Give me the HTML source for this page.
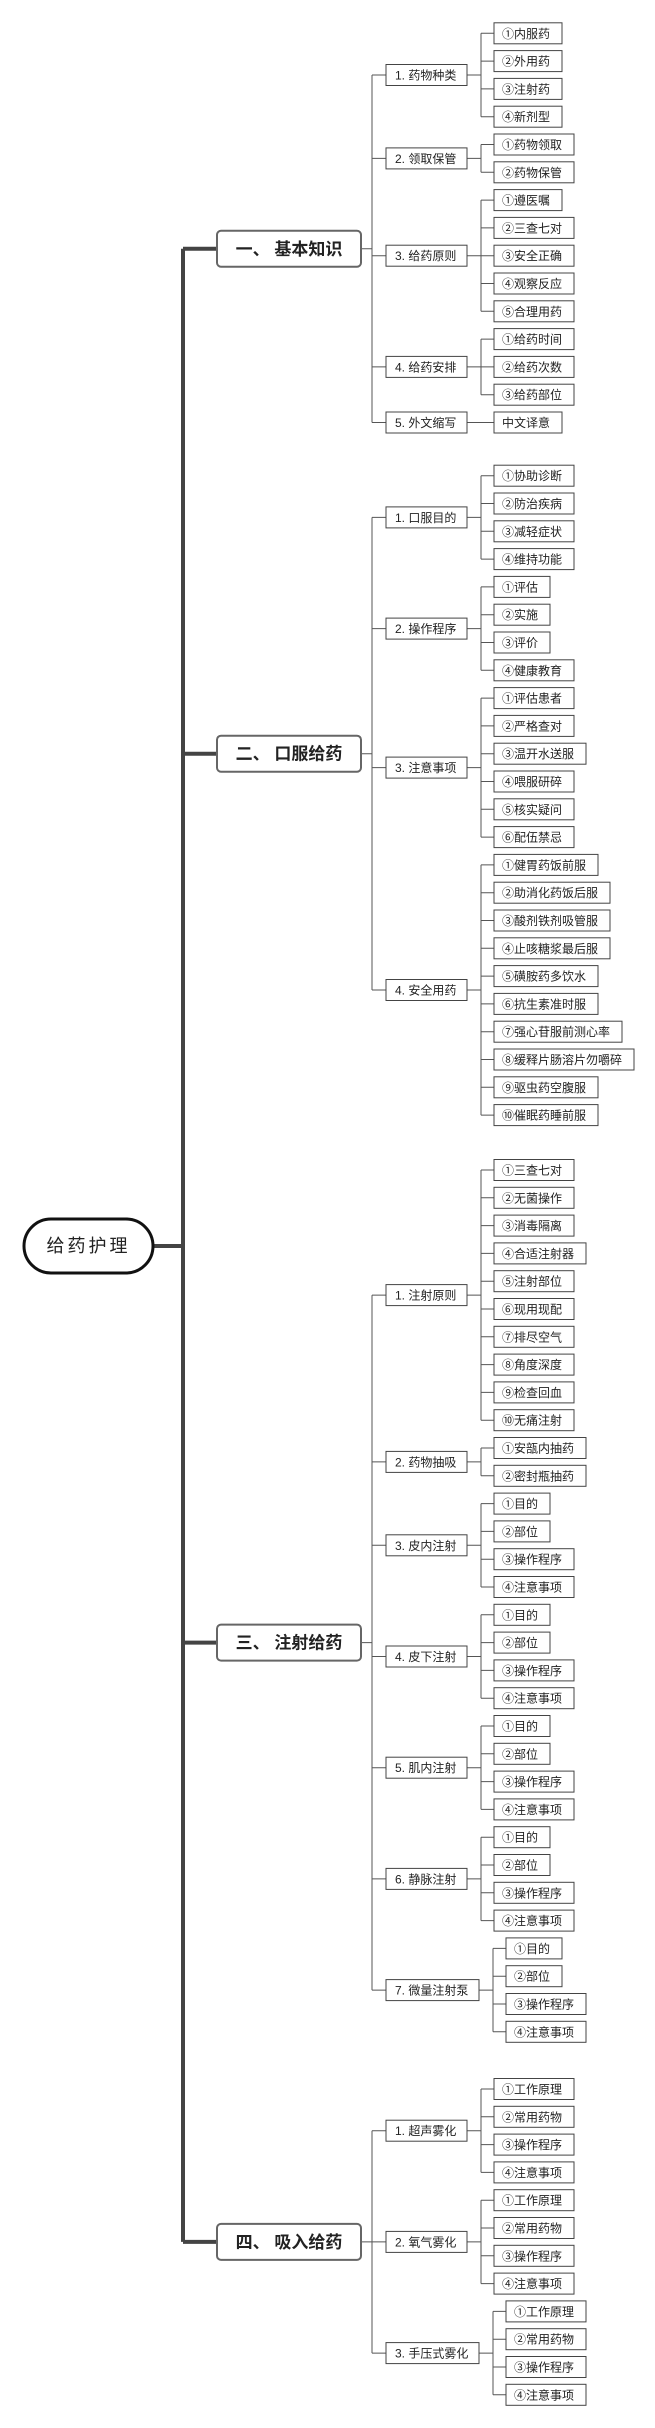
<!DOCTYPE html>
<html><head><meta charset="utf-8">
<style>
html,body{margin:0;padding:0;background:#fff;}
svg{display:block;}
text{font-family:"Liberation Sans","Noto Sans CJK SC",sans-serif;fill:#222;}
.lf rect,.l2 rect{fill:#fff;stroke:#444;stroke-width:1;}
.lf text,.l2 text{font-size:12px;}
.l1 rect{fill:#fff;stroke:#666;stroke-width:2;}
.l1 text{font-size:17px;font-weight:bold;text-anchor:middle;}
.ln{fill:none;stroke:#555;stroke-width:1;}
</style></head><body>
<svg width="655" height="2428" viewBox="0 0 655 2428" xmlns="http://www.w3.org/2000/svg">
<!-- trunk -->
<path d="M183 248.75V2241.9 M153 1246H183 M183 248.75H217 M183 753.7H217 M183 1642.6H217 M183 2241.9H217" stroke="#444" stroke-width="4" fill="none"/>
<rect x="24" y="1219" width="129" height="54" rx="27" fill="#fff" stroke="#111" stroke-width="3"/>
<text x="88.5" y="1252" font-size="18" text-anchor="middle" letter-spacing="3">给药护理</text>

<!-- connectors -->
<path class="ln" d="
M361 248.75H372 M372 75V422.5 M372 75H386 M372 158.4H386 M372 255.7H386 M372 366.9H386 M372 422.5H386
M467 75H481 M481 33.3V116.7 M481 33.3H494 M481 61.1H494 M481 88.9H494 M481 116.7H494
M467 158.4H481 M481 144.5V172.3 M481 144.5H494 M481 172.3H494
M467 255.7H481 M481 200.1V311.3 M481 200.1H494 M481 227.9H494 M481 255.7H494 M481 283.5H494 M481 311.3H494
M467 366.9H481 M481 339.1V394.7 M481 339.1H494 M481 366.9H494 M481 394.7H494
M467 422.5H494
M361 753.7H372 M372 517.4V990 M372 517.4H386 M372 628.6H386 M372 767.6H386 M372 990H386
M467 517.4H481 M481 475.7V559.1 M481 475.7H494 M481 503.5H494 M481 531.3H494 M481 559.1H494
M467 628.6H481 M481 586.9V670.3 M481 586.9H494 M481 614.7H494 M481 642.5H494 M481 670.3H494
M467 767.6H481 M481 698.1V837.1 M481 698.1H494 M481 725.9H494 M481 753.7H494 M481 781.5H494 M481 809.3H494 M481 837.1H494
M467 990H481 M481 864.9V1115.1 M481 864.9H494 M481 892.7H494 M481 920.5H494 M481 948.3H494 M481 976.1H494 M481 1003.9H494 M481 1031.7H494 M481 1059.5H494 M481 1087.3H494 M481 1115.1H494
M361 1642.6H372 M372 1295.1V1990.1 M372 1295.1H386 M372 1461.9H386 M372 1545.3H386 M372 1656.5H386 M372 1767.7H386 M372 1878.9H386 M372 1990.1H386
M467 1295.1H481 M481 1170V1420.2 M481 1170H494 M481 1197.8H494 M481 1225.6H494 M481 1253.4H494 M481 1281.2H494 M481 1309H494 M481 1336.8H494 M481 1364.6H494 M481 1392.4H494 M481 1420.2H494
M467 1461.9H481 M481 1448V1475.8 M481 1448H494 M481 1475.8H494
M467 1545.3H481 M481 1503.6V1587 M481 1503.6H494 M481 1531.4H494 M481 1559.2H494 M481 1587H494
M467 1656.5H481 M481 1614.8V1698.2 M481 1614.8H494 M481 1642.6H494 M481 1670.4H494 M481 1698.2H494
M467 1767.7H481 M481 1726V1809.4 M481 1726H494 M481 1753.8H494 M481 1781.6H494 M481 1809.4H494
M467 1878.9H481 M481 1837.2V1920.6 M481 1837.2H494 M481 1865H494 M481 1892.8H494 M481 1920.6H494
M479 1990.1H493 M493 1948.4V2031.8 M493 1948.4H506 M493 1976.2H506 M493 2004H506 M493 2031.8H506
M361 2241.9H372 M372 2130.7V2353.1 M372 2130.7H386 M372 2241.9H386 M372 2353.1H386
M467 2130.7H481 M481 2089V2172.4 M481 2089H494 M481 2116.8H494 M481 2144.6H494 M481 2172.4H494
M467 2241.9H481 M481 2200.2V2283.6 M481 2200.2H494 M481 2228H494 M481 2255.8H494 M481 2283.6H494
M479 2353.1H493 M493 2311.4V2394.8 M493 2311.4H506 M493 2339.2H506 M493 2367H506 M493 2394.8H506
"/>

<!-- L1 -->
<g class="l1">
<g transform="translate(217,248.75)"><rect x="0" y="-18" width="144" height="36" rx="4"/><text x="72" y="6">一、 基本知识</text></g>
<g transform="translate(217,753.7)"><rect x="0" y="-18" width="144" height="36" rx="4"/><text x="72" y="6">二、 口服给药</text></g>
<g transform="translate(217,1642.6)"><rect x="0" y="-18" width="144" height="36" rx="4"/><text x="72" y="6">三、 注射给药</text></g>
<g transform="translate(217,2241.9)"><rect x="0" y="-18" width="144" height="36" rx="4"/><text x="72" y="6">四、 吸入给药</text></g>
</g>

<!-- L2 -->
<g class="l2">
<g transform="translate(386,75)"><rect y="-10.5" width="81" height="21"/><text x="9" y="4.5">1. 药物种类</text></g>
<g transform="translate(386,158.4)"><rect y="-10.5" width="81" height="21"/><text x="9" y="4.5">2. 领取保管</text></g>
<g transform="translate(386,255.7)"><rect y="-10.5" width="81" height="21"/><text x="9" y="4.5">3. 给药原则</text></g>
<g transform="translate(386,366.9)"><rect y="-10.5" width="81" height="21"/><text x="9" y="4.5">4. 给药安排</text></g>
<g transform="translate(386,422.5)"><rect y="-10.5" width="81" height="21"/><text x="9" y="4.5">5. 外文缩写</text></g>
<g transform="translate(386,517.4)"><rect y="-10.5" width="81" height="21"/><text x="9" y="4.5">1. 口服目的</text></g>
<g transform="translate(386,628.6)"><rect y="-10.5" width="81" height="21"/><text x="9" y="4.5">2. 操作程序</text></g>
<g transform="translate(386,767.6)"><rect y="-10.5" width="81" height="21"/><text x="9" y="4.5">3. 注意事项</text></g>
<g transform="translate(386,990)"><rect y="-10.5" width="81" height="21"/><text x="9" y="4.5">4. 安全用药</text></g>
<g transform="translate(386,1295.1)"><rect y="-10.5" width="81" height="21"/><text x="9" y="4.5">1. 注射原则</text></g>
<g transform="translate(386,1461.9)"><rect y="-10.5" width="81" height="21"/><text x="9" y="4.5">2. 药物抽吸</text></g>
<g transform="translate(386,1545.3)"><rect y="-10.5" width="81" height="21"/><text x="9" y="4.5">3. 皮内注射</text></g>
<g transform="translate(386,1656.5)"><rect y="-10.5" width="81" height="21"/><text x="9" y="4.5">4. 皮下注射</text></g>
<g transform="translate(386,1767.7)"><rect y="-10.5" width="81" height="21"/><text x="9" y="4.5">5. 肌内注射</text></g>
<g transform="translate(386,1878.9)"><rect y="-10.5" width="81" height="21"/><text x="9" y="4.5">6. 静脉注射</text></g>
<g transform="translate(386,1990.1)"><rect y="-10.5" width="93" height="21"/><text x="9" y="4.5">7. 微量注射泵</text></g>
<g transform="translate(386,2130.7)"><rect y="-10.5" width="81" height="21"/><text x="9" y="4.5">1. 超声雾化</text></g>
<g transform="translate(386,2241.9)"><rect y="-10.5" width="81" height="21"/><text x="9" y="4.5">2. 氧气雾化</text></g>
<g transform="translate(386,2353.1)"><rect y="-10.5" width="93" height="21"/><text x="9" y="4.5">3. 手压式雾化</text></g>
</g>

<!-- leaves -->
<g class="lf">
<g transform="translate(494,33.3)"><rect y="-10.5" width="68" height="21"/><text x="8" y="4.5">①内服药</text></g>
<g transform="translate(494,61.1)"><rect y="-10.5" width="68" height="21"/><text x="8" y="4.5">②外用药</text></g>
<g transform="translate(494,88.9)"><rect y="-10.5" width="68" height="21"/><text x="8" y="4.5">③注射药</text></g>
<g transform="translate(494,116.7)"><rect y="-10.5" width="68" height="21"/><text x="8" y="4.5">④新剂型</text></g>
<g transform="translate(494,144.5)"><rect y="-10.5" width="80" height="21"/><text x="8" y="4.5">①药物领取</text></g>
<g transform="translate(494,172.3)"><rect y="-10.5" width="80" height="21"/><text x="8" y="4.5">②药物保管</text></g>
<g transform="translate(494,200.1)"><rect y="-10.5" width="68" height="21"/><text x="8" y="4.5">①遵医嘱</text></g>
<g transform="translate(494,227.9)"><rect y="-10.5" width="80" height="21"/><text x="8" y="4.5">②三查七对</text></g>
<g transform="translate(494,255.7)"><rect y="-10.5" width="80" height="21"/><text x="8" y="4.5">③安全正确</text></g>
<g transform="translate(494,283.5)"><rect y="-10.5" width="80" height="21"/><text x="8" y="4.5">④观察反应</text></g>
<g transform="translate(494,311.3)"><rect y="-10.5" width="80" height="21"/><text x="8" y="4.5">⑤合理用药</text></g>
<g transform="translate(494,339.1)"><rect y="-10.5" width="80" height="21"/><text x="8" y="4.5">①给药时间</text></g>
<g transform="translate(494,366.9)"><rect y="-10.5" width="80" height="21"/><text x="8" y="4.5">②给药次数</text></g>
<g transform="translate(494,394.7)"><rect y="-10.5" width="80" height="21"/><text x="8" y="4.5">③给药部位</text></g>
<g transform="translate(494,422.5)"><rect y="-10.5" width="68" height="21"/><text x="8" y="4.5">中文译意</text></g>

<g transform="translate(494,475.7)"><rect y="-10.5" width="80" height="21"/><text x="8" y="4.5">①协助诊断</text></g>
<g transform="translate(494,503.5)"><rect y="-10.5" width="80" height="21"/><text x="8" y="4.5">②防治疾病</text></g>
<g transform="translate(494,531.3)"><rect y="-10.5" width="80" height="21"/><text x="8" y="4.5">③减轻症状</text></g>
<g transform="translate(494,559.1)"><rect y="-10.5" width="80" height="21"/><text x="8" y="4.5">④维持功能</text></g>
<g transform="translate(494,586.9)"><rect y="-10.5" width="56" height="21"/><text x="8" y="4.5">①评估</text></g>
<g transform="translate(494,614.7)"><rect y="-10.5" width="56" height="21"/><text x="8" y="4.5">②实施</text></g>
<g transform="translate(494,642.5)"><rect y="-10.5" width="56" height="21"/><text x="8" y="4.5">③评价</text></g>
<g transform="translate(494,670.3)"><rect y="-10.5" width="80" height="21"/><text x="8" y="4.5">④健康教育</text></g>
<g transform="translate(494,698.1)"><rect y="-10.5" width="80" height="21"/><text x="8" y="4.5">①评估患者</text></g>
<g transform="translate(494,725.9)"><rect y="-10.5" width="80" height="21"/><text x="8" y="4.5">②严格查对</text></g>
<g transform="translate(494,753.7)"><rect y="-10.5" width="92" height="21"/><text x="8" y="4.5">③温开水送服</text></g>
<g transform="translate(494,781.5)"><rect y="-10.5" width="80" height="21"/><text x="8" y="4.5">④喂服研碎</text></g>
<g transform="translate(494,809.3)"><rect y="-10.5" width="80" height="21"/><text x="8" y="4.5">⑤核实疑问</text></g>
<g transform="translate(494,837.1)"><rect y="-10.5" width="80" height="21"/><text x="8" y="4.5">⑥配伍禁忌</text></g>
<g transform="translate(494,864.9)"><rect y="-10.5" width="104" height="21"/><text x="8" y="4.5">①健胃药饭前服</text></g>
<g transform="translate(494,892.7)"><rect y="-10.5" width="116" height="21"/><text x="8" y="4.5">②助消化药饭后服</text></g>
<g transform="translate(494,920.5)"><rect y="-10.5" width="116" height="21"/><text x="8" y="4.5">③酸剂铁剂吸管服</text></g>
<g transform="translate(494,948.3)"><rect y="-10.5" width="116" height="21"/><text x="8" y="4.5">④止咳糖浆最后服</text></g>
<g transform="translate(494,976.1)"><rect y="-10.5" width="104" height="21"/><text x="8" y="4.5">⑤磺胺药多饮水</text></g>
<g transform="translate(494,1003.9)"><rect y="-10.5" width="104" height="21"/><text x="8" y="4.5">⑥抗生素准时服</text></g>
<g transform="translate(494,1031.7)"><rect y="-10.5" width="128" height="21"/><text x="8" y="4.5">⑦强心苷服前测心率</text></g>
<g transform="translate(494,1059.5)"><rect y="-10.5" width="140" height="21"/><text x="8" y="4.5">⑧缓释片肠溶片勿嚼碎</text></g>
<g transform="translate(494,1087.3)"><rect y="-10.5" width="104" height="21"/><text x="8" y="4.5">⑨驱虫药空腹服</text></g>
<g transform="translate(494,1115.1)"><rect y="-10.5" width="104" height="21"/><text x="8" y="4.5">⑩催眠药睡前服</text></g>

<g transform="translate(494,1170)"><rect y="-10.5" width="80" height="21"/><text x="8" y="4.5">①三查七对</text></g>
<g transform="translate(494,1197.8)"><rect y="-10.5" width="80" height="21"/><text x="8" y="4.5">②无菌操作</text></g>
<g transform="translate(494,1225.6)"><rect y="-10.5" width="80" height="21"/><text x="8" y="4.5">③消毒隔离</text></g>
<g transform="translate(494,1253.4)"><rect y="-10.5" width="92" height="21"/><text x="8" y="4.5">④合适注射器</text></g>
<g transform="translate(494,1281.2)"><rect y="-10.5" width="80" height="21"/><text x="8" y="4.5">⑤注射部位</text></g>
<g transform="translate(494,1309)"><rect y="-10.5" width="80" height="21"/><text x="8" y="4.5">⑥现用现配</text></g>
<g transform="translate(494,1336.8)"><rect y="-10.5" width="80" height="21"/><text x="8" y="4.5">⑦排尽空气</text></g>
<g transform="translate(494,1364.6)"><rect y="-10.5" width="80" height="21"/><text x="8" y="4.5">⑧角度深度</text></g>
<g transform="translate(494,1392.4)"><rect y="-10.5" width="80" height="21"/><text x="8" y="4.5">⑨检查回血</text></g>
<g transform="translate(494,1420.2)"><rect y="-10.5" width="80" height="21"/><text x="8" y="4.5">⑩无痛注射</text></g>
<g transform="translate(494,1448)"><rect y="-10.5" width="92" height="21"/><text x="8" y="4.5">①安瓿内抽药</text></g>
<g transform="translate(494,1475.8)"><rect y="-10.5" width="92" height="21"/><text x="8" y="4.5">②密封瓶抽药</text></g>

<g transform="translate(494,1503.6)"><rect y="-10.5" width="56" height="21"/><text x="8" y="4.5">①目的</text></g>
<g transform="translate(494,1531.4)"><rect y="-10.5" width="56" height="21"/><text x="8" y="4.5">②部位</text></g>
<g transform="translate(494,1559.2)"><rect y="-10.5" width="80" height="21"/><text x="8" y="4.5">③操作程序</text></g>
<g transform="translate(494,1587)"><rect y="-10.5" width="80" height="21"/><text x="8" y="4.5">④注意事项</text></g>
<g transform="translate(494,1614.8)"><rect y="-10.5" width="56" height="21"/><text x="8" y="4.5">①目的</text></g>
<g transform="translate(494,1642.6)"><rect y="-10.5" width="56" height="21"/><text x="8" y="4.5">②部位</text></g>
<g transform="translate(494,1670.4)"><rect y="-10.5" width="80" height="21"/><text x="8" y="4.5">③操作程序</text></g>
<g transform="translate(494,1698.2)"><rect y="-10.5" width="80" height="21"/><text x="8" y="4.5">④注意事项</text></g>
<g transform="translate(494,1726)"><rect y="-10.5" width="56" height="21"/><text x="8" y="4.5">①目的</text></g>
<g transform="translate(494,1753.8)"><rect y="-10.5" width="56" height="21"/><text x="8" y="4.5">②部位</text></g>
<g transform="translate(494,1781.6)"><rect y="-10.5" width="80" height="21"/><text x="8" y="4.5">③操作程序</text></g>
<g transform="translate(494,1809.4)"><rect y="-10.5" width="80" height="21"/><text x="8" y="4.5">④注意事项</text></g>
<g transform="translate(494,1837.2)"><rect y="-10.5" width="56" height="21"/><text x="8" y="4.5">①目的</text></g>
<g transform="translate(494,1865)"><rect y="-10.5" width="56" height="21"/><text x="8" y="4.5">②部位</text></g>
<g transform="translate(494,1892.8)"><rect y="-10.5" width="80" height="21"/><text x="8" y="4.5">③操作程序</text></g>
<g transform="translate(494,1920.6)"><rect y="-10.5" width="80" height="21"/><text x="8" y="4.5">④注意事项</text></g>
<g transform="translate(506,1948.4)"><rect y="-10.5" width="56" height="21"/><text x="8" y="4.5">①目的</text></g>
<g transform="translate(506,1976.2)"><rect y="-10.5" width="56" height="21"/><text x="8" y="4.5">②部位</text></g>
<g transform="translate(506,2004)"><rect y="-10.5" width="80" height="21"/><text x="8" y="4.5">③操作程序</text></g>
<g transform="translate(506,2031.8)"><rect y="-10.5" width="80" height="21"/><text x="8" y="4.5">④注意事项</text></g>

<g transform="translate(494,2089)"><rect y="-10.5" width="80" height="21"/><text x="8" y="4.5">①工作原理</text></g>
<g transform="translate(494,2116.8)"><rect y="-10.5" width="80" height="21"/><text x="8" y="4.5">②常用药物</text></g>
<g transform="translate(494,2144.6)"><rect y="-10.5" width="80" height="21"/><text x="8" y="4.5">③操作程序</text></g>
<g transform="translate(494,2172.4)"><rect y="-10.5" width="80" height="21"/><text x="8" y="4.5">④注意事项</text></g>
<g transform="translate(494,2200.2)"><rect y="-10.5" width="80" height="21"/><text x="8" y="4.5">①工作原理</text></g>
<g transform="translate(494,2228)"><rect y="-10.5" width="80" height="21"/><text x="8" y="4.5">②常用药物</text></g>
<g transform="translate(494,2255.8)"><rect y="-10.5" width="80" height="21"/><text x="8" y="4.5">③操作程序</text></g>
<g transform="translate(494,2283.6)"><rect y="-10.5" width="80" height="21"/><text x="8" y="4.5">④注意事项</text></g>
<g transform="translate(506,2311.4)"><rect y="-10.5" width="80" height="21"/><text x="8" y="4.5">①工作原理</text></g>
<g transform="translate(506,2339.2)"><rect y="-10.5" width="80" height="21"/><text x="8" y="4.5">②常用药物</text></g>
<g transform="translate(506,2367)"><rect y="-10.5" width="80" height="21"/><text x="8" y="4.5">③操作程序</text></g>
<g transform="translate(506,2394.8)"><rect y="-10.5" width="80" height="21"/><text x="8" y="4.5">④注意事项</text></g>
</g>
</svg>
</body></html>
